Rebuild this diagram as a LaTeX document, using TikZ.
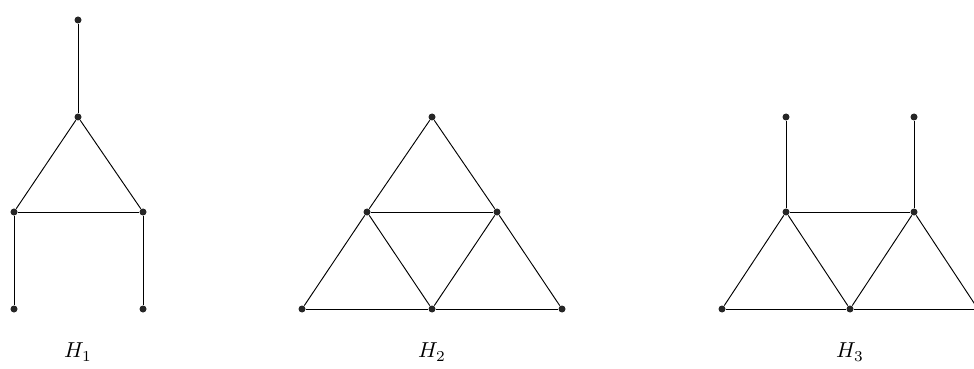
\documentclass[tikz,border=0pt]{standalone}
\usepackage{amsmath}
\usepackage{tikz}
\usetikzlibrary{positioning}

\begin{document}
\begin{tikzpicture}[x=0.03cm, y=-0.03cm, line width=0.8pt,
    vert/.style={circle, fill=black!85, draw=none, inner sep=0pt, minimum size=0.21cm},
    lab/.style={scale=1.85, transform shape}]
    \useasboundingbox (0,0) rectangle (974,369);
    \clip (0,0) rectangle (974,369);
    % H_1
    \node (a1) [vert] at (78,20) {};
    \node (a2) [vert] at (78,117) {};
    \node (a3) [vert] at (14,212) {};
    \node (a4) [vert] at (143,212) {};
    \node (a5) [vert] at (14,309) {};
    \node (a6) [vert] at (143,309) {};
    \node (h1) [lab] at (78,352) {$H_1$};
    \draw (a1) -- (a2);
    \draw (a2) -- (a3);
    \draw (a2) -- (a4);
    \draw (a3) -- (a4);
    \draw (a3) -- (a5);
    \draw (a4) -- (a6);
    % H_2
    \node (b1) [vert] at (432,117) {};
    \node (b2) [vert] at (367,212) {};
    \node (b3) [vert] at (497,212) {};
    \node (b4) [vert] at (302,309) {};
    \node (b5) [vert] at (432,309) {};
    \node (b6) [vert] at (562,309) {};
    \node (h2) [lab] at (432,352) {$H_2$};
    \draw (b1) -- (b2);
    \draw (b1) -- (b3);
    \draw (b2) -- (b3);
    \draw (b2) -- (b4);
    \draw (b2) -- (b5);
    \draw (b3) -- (b5);
    \draw (b3) -- (b6);
    \draw (b4) -- (b5);
    \draw (b5) -- (b6);
    % H_3
    \node (c1) [vert] at (786,117) {};
    \node (c2) [vert] at (914,117) {};
    \node (c3) [vert] at (786,212) {};
    \node (c4) [vert] at (914,212) {};
    \node (c5) [vert] at (722,309) {};
    \node (c6) [vert] at (850,309) {};
    \node (c7) [vert] at (978,309) {};
    \node (h3) [lab] at (850,352) {$H_3$};
    \draw (c1) -- (c3);
    \draw (c2) -- (c4);
    \draw (c3) -- (c4);
    \draw (c3) -- (c5);
    \draw (c3) -- (c6);
    \draw (c4) -- (c6);
    \draw (c4) -- (c7);
    \draw (c5) -- (c6);
    \draw (c6) -- (c7);
\end{tikzpicture}
\end{document}
